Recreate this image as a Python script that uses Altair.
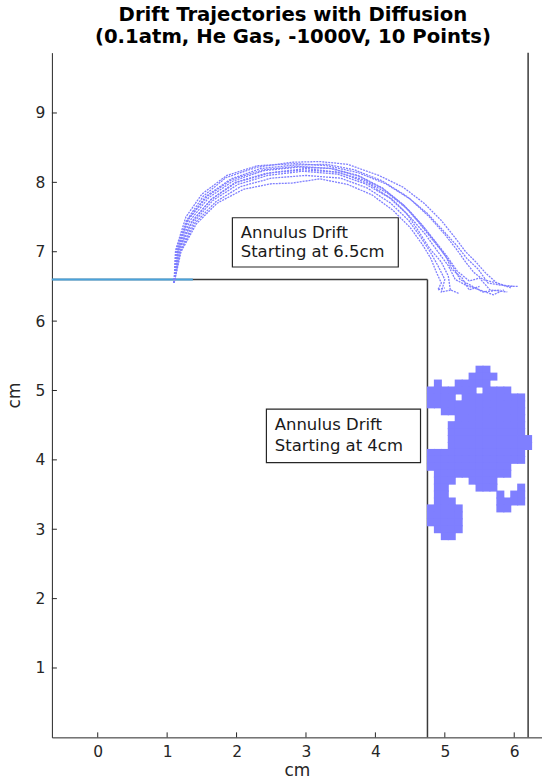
import altair as alt
import pandas as pd

# ---------------- data ----------------
title_lines = ["Drift Trajectories with Diffusion", "(0.1atm, He Gas, -1000V, 10 Points)"]
x_ticks = [0, 1, 2, 3, 4, 5, 6]
y_ticks = [1, 2, 3, 4, 5, 6, 7, 8, 9]
x_domain = [-0.66, 6.4]
y_domain = [0, 9.87]

# drift strands starting at 6.5 cm (arc over the annulus)
strand_1_x = [1.10, 1.12, 1.28, 1.52, 1.85, 2.30, 2.80, 3.20, 3.60, 4.05, 4.40, 4.70, 4.95, 5.15, 5.30, 5.45, 5.60, 5.75, 5.90, 6.05]
strand_1_y = [6.55, 7.00, 7.45, 7.80, 8.07, 8.22, 8.29, 8.30, 8.26, 8.10, 7.93, 7.70, 7.45, 7.20, 7.00, 6.85, 6.68, 6.55, 6.50, 6.50]
strand_2_x = [1.10, 1.15, 1.33, 1.60, 1.95, 2.40, 2.90, 3.35, 3.75, 4.10, 4.40, 4.60, 4.80, 4.98, 5.12, 5.22, 5.40, 5.55, 5.80]
strand_2_y = [6.55, 7.00, 7.45, 7.78, 8.02, 8.17, 8.22, 8.20, 8.10, 7.92, 7.68, 7.45, 7.20, 6.98, 6.78, 6.60, 6.50, 6.42, 6.45]
strand_3_x = [1.10, 1.20, 1.42, 1.72, 2.10, 2.50, 2.80, 3.20, 3.60, 3.95, 4.25, 4.50, 4.68, 4.80, 4.88, 4.95, 4.90, 5.00]
strand_3_y = [6.55, 7.00, 7.40, 7.70, 7.90, 7.98, 7.99, 8.05, 7.97, 7.82, 7.60, 7.35, 7.10, 6.90, 6.70, 6.55, 6.45, 6.48]
strand_4_x = [1.10, 1.16, 1.35, 1.63, 2.00, 2.50, 3.00, 3.50, 3.90, 4.25, 4.50, 4.72, 4.90, 5.05, 5.15, 5.30, 5.50, 5.70, 5.85]
strand_4_y = [6.55, 7.02, 7.42, 7.75, 8.00, 8.14, 8.20, 8.14, 7.98, 7.75, 7.50, 7.25, 7.00, 6.80, 6.60, 6.52, 6.45, 6.38, 6.45]
strand_5_x = [1.10, 1.13, 1.27, 1.50, 1.86, 2.30, 2.85, 3.30, 3.75, 4.15, 4.50, 4.78, 5.00, 5.18, 5.30, 5.42, 5.55, 5.75, 5.95]
strand_5_y = [6.55, 7.05, 7.50, 7.83, 8.10, 8.24, 8.27, 8.24, 8.14, 7.98, 7.76, 7.50, 7.25, 7.02, 6.85, 6.70, 6.60, 6.55, 6.48]
strand_6_x = [1.10, 1.18, 1.38, 1.66, 2.02, 2.45, 2.95, 3.45, 3.85, 4.20, 4.45, 4.62, 4.78, 4.95, 5.05, 5.08, 5.20]
strand_6_y = [6.55, 7.00, 7.42, 7.74, 7.97, 8.10, 8.16, 8.12, 7.98, 7.78, 7.55, 7.30, 7.05, 6.85, 6.65, 6.45, 6.40]
strand_7_x = [1.10, 1.14, 1.30, 1.56, 1.92, 2.35, 2.85, 3.30, 3.70, 4.10, 4.45, 4.75, 4.98, 5.18, 5.32, 5.48, 5.62, 5.80, 6.00]
strand_7_y = [6.55, 7.00, 7.46, 7.80, 8.05, 8.20, 8.25, 8.26, 8.18, 8.02, 7.80, 7.55, 7.30, 7.08, 6.90, 6.75, 6.55, 6.52, 6.50]
strand_8_x = [1.10, 1.17, 1.36, 1.64, 1.98, 2.42, 2.95, 3.42, 3.82, 4.18, 4.48, 4.70, 4.88, 5.02, 5.10, 5.25, 5.35, 5.50]
strand_8_y = [6.55, 7.02, 7.44, 7.76, 8.00, 8.13, 8.18, 8.15, 8.04, 7.84, 7.60, 7.35, 7.12, 6.92, 6.75, 6.62, 6.45, 6.50]
strand_9_x = [1.10, 1.15, 1.31, 1.58, 1.93, 2.38, 2.88, 3.38, 3.78, 4.12, 4.42, 4.66, 4.86, 5.02, 5.18, 5.35, 5.50, 5.65, 5.90]
strand_9_y = [6.55, 7.03, 7.47, 7.80, 8.04, 8.18, 8.23, 8.20, 8.08, 7.90, 7.66, 7.40, 7.15, 6.95, 6.72, 6.58, 6.62, 6.45, 6.42]
strand_10_x = [1.10, 1.19, 1.40, 1.70, 2.06, 2.50, 3.00, 3.50, 3.88, 4.22, 4.48, 4.66, 4.80, 4.90, 5.00, 4.95, 5.10]
strand_10_y = [6.55, 7.00, 7.41, 7.72, 7.94, 8.06, 8.10, 8.06, 7.92, 7.70, 7.45, 7.20, 6.98, 6.80, 6.60, 6.42, 6.45]

# diffusion cloud starting at 4 cm, occupancy grid
cloud_cols = [4.8, 4.9, 5.0, 5.1, 5.2, 5.3, 5.4, 5.5, 5.6, 5.7, 5.8, 5.9, 6.0, 6.1, 6.2]
cloud_rows_y = [5.3, 5.2, 5.1, 5.0, 4.9, 4.8, 4.7, 4.6, 4.5, 4.4, 4.3, 4.2, 4.1, 4.0,
                3.9, 3.8, 3.7, 3.6, 3.5, 3.4, 3.3, 3.2, 3.1, 3.0, 2.9]
cloud_rows = [
    ".......##......",
    "......####.....",
    ".#..#####......",
    "#######.####...",
    "####.#########.",
    "##############.",
    "..############.",
    "....##########.",
    "...###########.",
    "...###########.",
    "...############",
    "...############",
    "##############.",
    "##############.",
    "############...",
    ".###########...",
    ".###..####.....",
    ".##....###...#.",
    ".##.......#.##.",
    ".###......####.",
    "#####.....##...",
    "#####..........",
    "#####..........",
    ".####..........",
    "..##...........",
]

# geometry lines
wall_x = 4.75
wall_top = 6.6
outer_x = 6.2
blue_end = 1.37

# annotation boxes
box_text = [["Annulus Drift", "Starting at 6.5cm"], ["Annulus Drift", "Starting at 4cm"]]
box_x = [1.94, 2.43]
box_x2 = [4.33, 4.65]
box_y = [7.49, 4.73]
box_y2 = [6.78, 3.96]

# ---------------- build tables ----------------
W, H = 491, 686
PT = "#7f7fff"
AX = "#262626"
FONT = "DejaVu Sans"

xs = alt.Scale(domain=x_domain, nice=False, zero=False)
ys = alt.Scale(domain=y_domain, nice=False, zero=False)

strands = [
    (strand_1_x, strand_1_y), (strand_2_x, strand_2_y), (strand_3_x, strand_3_y),
    (strand_4_x, strand_4_y), (strand_5_x, strand_5_y), (strand_6_x, strand_6_y),
    (strand_7_x, strand_7_y), (strand_8_x, strand_8_y), (strand_9_x, strand_9_y),
    (strand_10_x, strand_10_y),
]
arc_rows = []
for k, (ax_, ay_) in enumerate(strands):
    for i, (xv, yv) in enumerate(zip(ax_, ay_)):
        arc_rows.append({"s": k, "i": i, "x": xv, "y": yv})
arc_df = pd.DataFrame(arc_rows)

cloud = []
for yv, row in zip(cloud_rows_y, cloud_rows):
    for xv, ch in zip(cloud_cols, row):
        if ch == "#":
            cloud.append({"x": xv, "y": yv})
cloud_df = pd.DataFrame(cloud)

lines_df = pd.DataFrame([
    {"x": wall_x, "x2": wall_x, "y": 0, "y2": wall_top},
    {"x": x_domain[0], "x2": wall_x, "y": wall_top, "y2": wall_top},
    {"x": outer_x, "x2": outer_x, "y": y_domain[0], "y2": y_domain[1]},
])
blue_df = pd.DataFrame([{"x": x_domain[0], "x2": blue_end, "y": wall_top, "y2": wall_top}])

boxes_df = pd.DataFrame({"x": box_x, "x2": box_x2, "y": box_y, "y2": box_y2})
txt = []
for bx, by, by2, lines in zip(box_x, box_y, box_y2, box_text):
    h = by - by2
    txt.append({"x": bx + 0.12, "y": by - h * 0.3, "t": lines[0]})
    txt.append({"x": bx + 0.12, "y": by - h * 0.69, "t": lines[1]})
txt_df = pd.DataFrame(txt)

xt_df = pd.DataFrame({"v": x_ticks})
yt_df = pd.DataFrame({"v": y_ticks})

xaxis = alt.Axis(title="cm", values=x_ticks, format="d", ticks=False, grid=False, labelPadding=7,
                 titlePadding=3, domainColor=AX, labelColor=AX, titleColor=AX,
                 labelFont=FONT, titleFont=FONT, labelFontSize=15.5, titleFontSize=17,
                 titleFontWeight="normal")
yaxis = alt.Axis(title="cm", values=y_ticks, format="d", ticks=False, grid=False, labelPadding=7,
                 titlePadding=12, domainColor=AX, labelColor=AX, titleColor=AX,
                 labelFont=FONT, titleFont=FONT, labelFontSize=15.5, titleFontSize=17,
                 titleFontWeight="normal")

base_lines = alt.Chart(lines_df).mark_rule(color="#3a3a3a", strokeWidth=1.5).encode(
    x=alt.X("x:Q", scale=xs, axis=xaxis), x2="x2", y=alt.Y("y:Q", scale=ys, axis=yaxis), y2="y2")
blue_line = alt.Chart(blue_df).mark_rule(color="#4aa3dc", strokeWidth=1.8).encode(
    x=alt.X("x:Q", scale=xs), x2="x2", y=alt.Y("y:Q", scale=ys), y2="y2")

arcs = alt.Chart(arc_df).mark_line(color=PT, strokeWidth=1.3, strokeDash=[2, 1]).encode(
    x=alt.X("x:Q", scale=xs), y=alt.Y("y:Q", scale=ys), detail="s:N", order="i:Q")

cloud_m = alt.Chart(cloud_df).mark_square(color=PT, opacity=1, size=64).encode(
    x=alt.X("x:Q", scale=xs), y=alt.Y("y:Q", scale=ys))

boxes = alt.Chart(boxes_df).mark_rect(fill="white", stroke=AX, strokeWidth=1.2).encode(
    x=alt.X("x:Q", scale=xs), x2="x2", y=alt.Y("y:Q", scale=ys), y2="y2")
texts = alt.Chart(txt_df).mark_text(align="left", baseline="middle", font=FONT, fontSize=16.5,
                                    color="#1a1a1a").encode(
    x=alt.X("x:Q", scale=xs), y=alt.Y("y:Q", scale=ys), text="t:N")

xticks = alt.Chart(xt_df).mark_rule(color=AX, strokeWidth=1).encode(
    x=alt.X("v:Q", scale=xs), y=alt.value(H), y2=alt.value(H - 5))
yticks = alt.Chart(yt_df).mark_rule(color=AX, strokeWidth=1).encode(
    y=alt.Y("v:Q", scale=ys), x=alt.value(0), x2=alt.value(5))

chart = alt.layer(base_lines, blue_line, arcs, cloud_m, boxes, texts, xticks, yticks).properties(
    width=W, height=H,
    background="white",
    title=alt.TitleParams(text=title_lines, font=FONT, fontSize=19.7, fontWeight="bold",
                          color="black", anchor="middle", offset=5, dx=-4, lineHeight=22),
    autosize=alt.AutoSizeParams(type="none"),
    padding={"left": 52, "top": 52, "right": 0, "bottom": 46},
).configure_view(stroke=None).configure_axis(domainWidth=1)

chart.save("out.html", embed_options={"renderer": "svg", "actions": False})
